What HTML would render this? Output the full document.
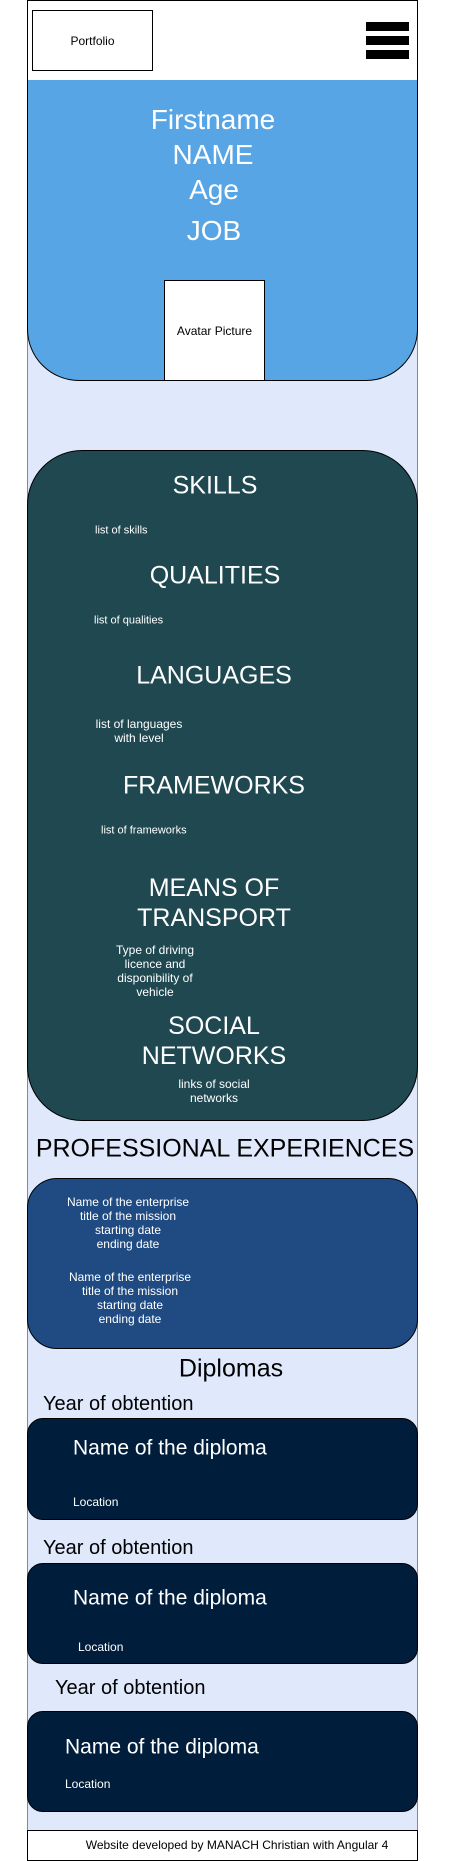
<!DOCTYPE html>
<html><head><meta charset="utf-8"><style>
*{margin:0;padding:0;box-sizing:border-box}
body{width:456px;height:1861px;background:#fff;position:relative;overflow:hidden;font-family:"Liberation Sans",sans-serif}
div{position:absolute}
.t{white-space:nowrap;line-height:1}
.c{transform:translate(-50%,-50%);text-align:center}
.l{transform:translateY(-50%)}
.w{color:#fff}
</style></head><body>
<div style="left:27px;top:0;width:391px;height:1861px;background:#dfe9fb;border-left:1px solid #6c8ebf;border-right:1px solid #6c8ebf"></div>
<div style="left:27px;top:0;width:391px;height:81px;background:#fff;border:1px solid #000"></div>
<div style="left:32px;top:10px;width:121px;height:61px;border:1px solid #000;background:#fff;font-size:12px;display:flex;align-items:center;justify-content:center">Portfolio</div>
<div style="left:366px;top:22px;width:43px;height:38px">
<div style="left:0;top:0;width:43px;height:9px;background:#000"></div>
<div style="left:0;top:14px;width:43px;height:9px;background:#000"></div>
<div style="left:0;top:28px;width:43px;height:9px;background:#000"></div>
</div>
<div style="left:27px;top:80px;width:391px;height:301px;background:#58a5e5;border:1px solid #000;border-top:none;border-radius:0 0 52px 52px"></div>
<div class="t c w" style="left:213px;top:120px;font-size:28px">Firstname</div>
<div class="t c w" style="left:213px;top:155px;font-size:28px">NAME</div>
<div class="t c w" style="left:214px;top:190px;font-size:28px">Age</div>
<div class="t c w" style="left:214px;top:231px;font-size:28px">JOB</div>
<div style="left:164px;top:280px;width:101px;height:101px;background:#fff;border:1px solid #000;font-size:12px;display:flex;align-items:center;justify-content:center">Avatar Picture</div>

<div style="left:27px;top:450px;width:391px;height:671px;background:#1f4851;border:1px solid #000;border-radius:55px"></div>
<div class="t c w" style="left:215px;top:486px;font-size:25px">SKILLS</div>
<div class="t l w" style="left:95px;top:531px;font-size:11px">list of skills</div>
<div class="t c w" style="left:215px;top:576px;font-size:25px">QUALITIES</div>
<div class="t l w" style="left:94px;top:621px;font-size:11px">list of qualities</div>
<div class="t c w" style="left:214px;top:676px;font-size:25px">LANGUAGES</div>
<div class="c w" style="left:139px;top:731px;font-size:12px;line-height:14px;white-space:nowrap">list of languages<br>with level</div>
<div class="t c w" style="left:214px;top:786px;font-size:25px">FRAMEWORKS</div>
<div class="t l w" style="left:101px;top:831px;font-size:11px">list of frameworks</div>
<div class="c w" style="left:214px;top:903px;font-size:25px;line-height:30px;white-space:nowrap">MEANS OF<br>TRANSPORT</div>
<div class="c w" style="left:155px;top:971px;font-size:12px;line-height:14px;white-space:nowrap">Type of driving<br>licence and<br>disponibility of<br>vehicle</div>
<div class="c w" style="left:214px;top:1041px;font-size:25px;line-height:30px;white-space:nowrap">SOCIAL<br>NETWORKS</div>
<div class="c w" style="left:214px;top:1091px;font-size:12px;line-height:14px;white-space:nowrap">links of social<br>networks</div>

<div class="t c" style="left:225px;top:1149px;font-size:25px">PROFESSIONAL EXPERIENCES</div>
<div style="left:27px;top:1178px;width:391px;height:171px;background:#1f4b82;border:1px solid #000;border-radius:30px"></div>
<div class="c w" style="left:128px;top:1223px;font-size:12px;line-height:14px;white-space:nowrap">Name of the enterprise<br>title of the mission<br>starting date<br>ending date</div>
<div class="c w" style="left:130px;top:1298px;font-size:12px;line-height:14px;white-space:nowrap">Name of the enterprise<br>title of the mission<br>starting date<br>ending date</div>

<div class="t c" style="left:231px;top:1369px;font-size:25px">Diplomas</div>

<div class="t l" style="left:43px;top:1404px;font-size:20px">Year of obtention</div>
<div style="left:27px;top:1418px;width:391px;height:102px;background:#001e3c;border:1px solid #000;border-radius:16px"></div>
<div class="t l w" style="left:73px;top:1448px;font-size:21px">Name of the diploma</div>
<div class="t l w" style="left:73px;top:1502px;font-size:12px">Location</div>

<div class="t l" style="left:43px;top:1548px;font-size:20px">Year of obtention</div>
<div style="left:27px;top:1563px;width:391px;height:101px;background:#001e3c;border:1px solid #000;border-radius:16px"></div>
<div class="t l w" style="left:73px;top:1598px;font-size:21px">Name of the diploma</div>
<div class="t l w" style="left:78px;top:1647px;font-size:12px">Location</div>

<div class="t l" style="left:55px;top:1688px;font-size:20px">Year of obtention</div>
<div style="left:27px;top:1711px;width:391px;height:101px;background:#001e3c;border:1px solid #000;border-radius:16px"></div>
<div class="t l w" style="left:65px;top:1747px;font-size:21px">Name of the diploma</div>
<div class="t l w" style="left:65px;top:1784px;font-size:12px">Location</div>

<div style="left:27px;top:1830px;width:391px;height:31px;background:#fff;border:1px solid #000"></div>
<div class="t c" style="left:237px;top:1845px;font-size:12px">Website developed by MANACH Christian with Angular 4</div>
</body></html>
